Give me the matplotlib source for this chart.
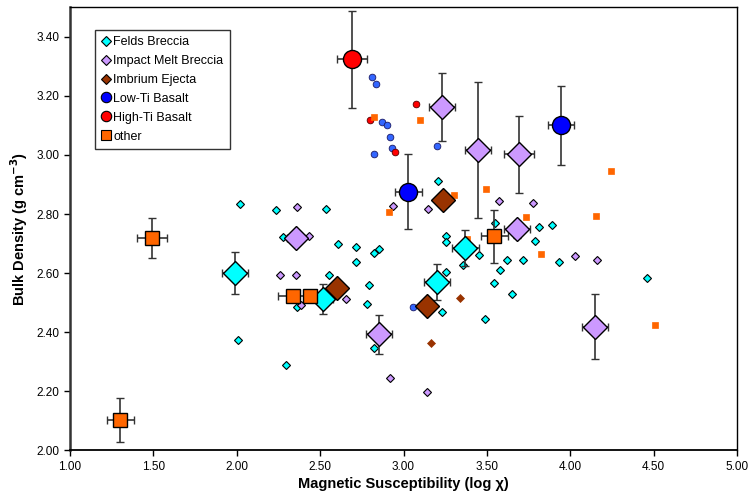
import matplotlib
matplotlib.use("Agg")
import matplotlib.pyplot as plt
from matplotlib.lines import Line2D
import numpy as np

plt.rcParams['font.family'] = ['Liberation Sans', 'DejaVu Sans']

# --- individual samples (small markers) ---
felds_x = [2.018, 2.236, 2.538, 2.276, 2.609, 2.717, 2.822, 2.852, 2.716, 2.554, 2.794, 2.360,
           2.783, 2.006, 2.296, 2.825, 3.232, 3.491, 3.545, 3.650, 3.209, 3.548, 3.256, 3.256,
           3.454, 3.359, 3.254, 3.622, 3.719, 3.579, 3.815, 3.891, 3.791, 3.933, 4.461]
felds_y = [2.834, 2.812, 2.818, 2.721, 2.699, 2.690, 2.667, 2.683, 2.638, 2.593, 2.561, 2.486,
           2.496, 2.374, 2.289, 2.346, 2.469, 2.445, 2.565, 2.529, 2.913, 2.769, 2.727, 2.704,
           2.661, 2.627, 2.605, 2.645, 2.646, 2.610, 2.755, 2.762, 2.708, 2.638, 2.582]

imb_x = [2.362, 2.434, 2.258, 2.354, 2.654, 2.384, 2.920, 3.143, 2.936, 3.148, 3.573, 3.779, 4.031, 4.163]
imb_y = [2.825, 2.726, 2.595, 2.595, 2.512, 2.491, 2.246, 2.198, 2.827, 2.818, 2.843, 2.837, 2.659, 2.643]

ej_x = [3.340, 3.166]
ej_y = [2.515, 2.364]

lowti_x = [2.812, 2.836, 2.873, 2.903, 2.921, 2.931, 2.822, 3.200, 3.059]
lowti_y = [3.265, 3.241, 3.113, 3.100, 3.060, 3.023, 3.004, 3.032, 2.485]

highti_x = [2.800, 2.948, 3.077]
highti_y = [3.117, 3.011, 3.172]

other_x = [2.825, 3.098, 2.915, 3.305, 3.496, 3.734, 3.383, 3.827, 4.244, 4.155, 4.511]
other_y = [3.128, 3.120, 2.806, 2.866, 2.885, 2.790, 2.717, 2.663, 2.946, 2.792, 2.423]

# --- means with error bars (large markers) ---
felds_mx = [1.990, 2.516, 3.370, 3.200]
felds_my = [2.600, 2.512, 2.685, 2.570]
felds_ex = [0.08, 0.06, 0.08, 0.08]
felds_ey = [0.07, 0.05, 0.06, 0.06]

imb_mx = [2.354, 2.854, 3.230, 3.447, 3.693, 3.680, 4.148]
imb_my = [2.720, 2.393, 3.162, 3.016, 3.002, 2.748, 2.418]
imb_ex = [0.05, 0.08, 0.08, 0.08, 0.09, 0.08, 0.08]
imb_ey = [0.01, 0.066, 0.115, 0.23, 0.13, 0.03, 0.11]

ej_mx = [3.239, 2.600, 3.143]
ej_my = [2.846, 2.551, 2.488]

lowti_mx = [3.029, 3.944]
lowti_my = [2.875, 3.100]
lowti_ex = [0.08, 0.08]
lowti_ey = [0.127, 0.135]

highti_mx = [2.692]
highti_my = [3.324]
highti_ex = [0.09]
highti_ey = [0.165]

other_mx = [1.490, 1.302, 2.336, 2.440, 3.545]
other_my = [2.719, 2.102, 2.523, 2.523, 2.725]
other_ex = [0.09, 0.08, 0.09, 0.02, 0.08]
other_ey = [0.068, 0.074, 0.005, 0.005, 0.09]

c_felds = '#00FFFF'
c_imb = '#CC99FF'
c_ej = '#993300'
c_low_big = '#0000FF'
c_low = '#3366FF'
c_high = '#FF0000'
c_other = '#FF6600'

fig = plt.figure(figsize=(7.54, 4.99), dpi=100)
ax = fig.add_axes([0.0928, 0.0976, 0.8847, 0.8878])

# small points
ax.plot(felds_x, felds_y, 'D', ms=4, mfc=c_felds, mec='black', mew=0.8, zorder=3)
ax.plot(imb_x, imb_y, 'D', ms=4, mfc=c_imb, mec='black', mew=0.8, zorder=3)
ax.plot(ej_x, ej_y, 'D', ms=4, mfc=c_ej, mec=c_ej, mew=0.5, zorder=3)
ax.plot(lowti_x, lowti_y, 'o', ms=4.8, mfc=c_low, mec='#1a1a66', mew=0.6, zorder=3)
ax.plot(highti_x, highti_y, 'o', ms=4.8, mfc=c_high, mec='#550000', mew=0.6, zorder=3)
ax.plot(other_x, other_y, 's', ms=4.5, mfc=c_other, mec=c_other, mew=0.5, zorder=3)

# means with error bars
eb = dict(ecolor='#333333', elinewidth=1.2, capsize=3, capthick=1.2, linestyle='none', mec='black', mew=1.0, zorder=5)
ax.errorbar(felds_mx, felds_my, xerr=felds_ex, yerr=felds_ey, fmt='D', ms=12, mfc=c_felds, **eb)
ax.errorbar(imb_mx, imb_my, xerr=imb_ex, yerr=imb_ey, fmt='D', ms=12, mfc=c_imb, **eb)
ax.plot(ej_mx, ej_my, 'D', ms=12, mfc=c_ej, mec='black', mew=1.0, zorder=6)
ax.errorbar(lowti_mx, lowti_my, xerr=lowti_ex, yerr=lowti_ey, fmt='o', ms=13, mfc=c_low_big, **eb)
ax.errorbar(highti_mx, highti_my, xerr=highti_ex, yerr=highti_ey, fmt='o', ms=13, mfc=c_high, **eb)
ax.errorbar(other_mx, other_my, xerr=other_ex, yerr=other_ey, fmt='s', ms=9.5, mfc=c_other, **eb)

ax.set_xlim(1.0, 5.0)
ax.set_ylim(2.0, 3.5)
ax.set_xticks(np.arange(1.0, 5.01, 0.5))
ax.set_yticks(np.arange(2.0, 3.41, 0.2))
ax.xaxis.set_major_formatter(matplotlib.ticker.FormatStrFormatter('%.2f'))
ax.yaxis.set_major_formatter(matplotlib.ticker.FormatStrFormatter('%.2f'))
ax.tick_params(axis='both', direction='out', length=4, width=1, labelsize=8.5, colors='black')

ax.spines['left'].set_linewidth(1.8)
ax.spines['left'].set_color('#333333')
ax.spines['bottom'].set_linewidth(1.3)
ax.spines['top'].set_linewidth(1.0)
ax.spines['right'].set_linewidth(1.0)

ax.set_xlabel('Magnetic Susceptibility (log χ)', fontsize=10.5, fontweight='bold', labelpad=3)
ax.set_ylabel('Bulk Density (g cm$^{\\mathbf{-3}}$)', fontsize=10.5, fontweight='bold', labelpad=5)

handles = [
    Line2D([], [], marker='D', ls='none', ms=5, mfc=c_felds, mec='black', mew=0.8, label='Felds Breccia'),
    Line2D([], [], marker='D', ls='none', ms=5, mfc=c_imb, mec='black', mew=0.8, label='Impact Melt Breccia'),
    Line2D([], [], marker='D', ls='none', ms=5, mfc=c_ej, mec='black', mew=0.8, label='Imbrium Ejecta'),
    Line2D([], [], marker='o', ls='none', ms=7.5, mfc=c_low_big, mec='black', mew=0.8, label='Low-Ti Basalt'),
    Line2D([], [], marker='o', ls='none', ms=7.5, mfc=c_high, mec='black', mew=0.8, label='High-Ti Basalt'),
    Line2D([], [], marker='s', ls='none', ms=7, mfc=c_other, mec='black', mew=0.8, label='other'),
]
leg = ax.legend(handles=handles, loc='upper left', bbox_to_anchor=(0.037, 0.949), borderaxespad=0,
                fontsize=9, frameon=True, fancybox=False, edgecolor='black', handlelength=0.8,
                handletextpad=0.2, labelspacing=0.55, borderpad=0.5)
leg.get_frame().set_linewidth(1.0)

fig.savefig('out.png', dpi=100)
